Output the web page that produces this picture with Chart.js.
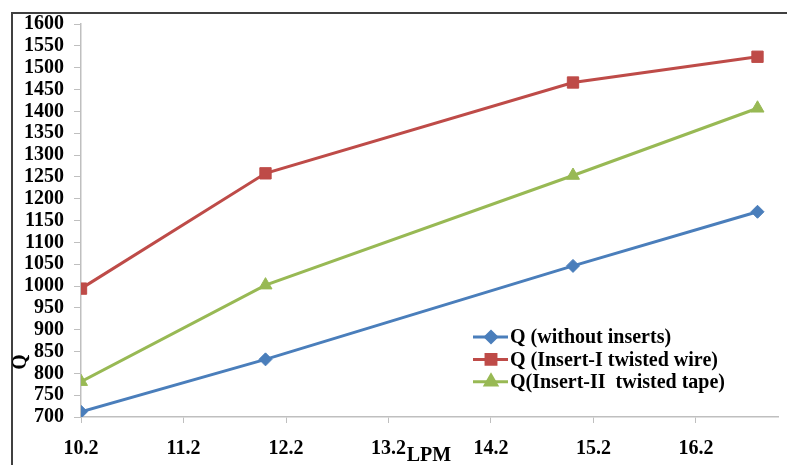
<!DOCTYPE html>
<html>
<head>
<meta charset="utf-8">
<script src="https://cdn.jsdelivr.net/npm/chart.js@4/dist/chart.umd.min.js"></script>
<style>
  html, body { margin: 0; padding: 0; background: #fff; }
  #wrap { width: 787px; height: 465px; }
</style>
</head>
<body>
<div id="wrap"><canvas id="myChart" width="787" height="465"></canvas></div>
<script>
const lpm = [10.2, 12.0, 15.0, 16.8];
const qWithout = [712, 832, 1046, 1170];
const qWire = [994, 1258, 1466, 1525];
const qTape = [781, 1002, 1253, 1407];
const xTicks = [10.2, 11.2, 12.2, 13.2, 14.2, 15.2, 16.2];
const names = ['Q (without inserts)', 'Q (Insert-I twisted wire)', 'Q(Insert-II  twisted tape)'];

const serif = '"Liberation Serif", "Times New Roman", serif';
const axisGray = '#bfbfbf';

function pts(ys) {
    return lpm.map((x, i) => ({ x: x, y: ys[i] }));
}

function series(label, ys, color, style, r) {
    return {
        label: label,
        data: pts(ys),
        borderColor: color,
        backgroundColor: color,
        borderWidth: 3,
        pointStyle: style,
        pointRadius: r,
        pointHoverRadius: r,
        pointBorderWidth: 1,
        pointBorderColor: color,
        pointBackgroundColor: color,
        tension: 0
    };
}

// frame, axis titles and the legend inside the plot
const extras = {
    id: 'extras',
    beforeDraw(chart) {
        const c = chart.ctx;
        c.save();
        c.fillStyle = '#fff';
        c.fillRect(0, 0, chart.width, chart.height);
        c.strokeStyle = '#404040';
        c.lineWidth = 2;
        c.beginPath();
        c.moveTo(12, chart.height);
        c.lineTo(12, 13);
        c.lineTo(chart.width, 13);
        c.stroke();
        c.restore();
    },
    afterDraw(chart) {
        const c = chart.ctx;
        c.save();
        c.fillStyle = '#000';
        c.font = 'bold 20px ' + serif;
        c.textAlign = 'center';
        c.textBaseline = 'alphabetic';
        c.fillText('LPM', 429, 461);

        c.translate(26, 362);
        c.rotate(-Math.PI / 2);
        c.fillText('Q', 0, 0);
        c.restore();

        // legend
        c.save();
        c.font = 'bold 20px ' + serif;
        c.textAlign = 'left';
        c.textBaseline = 'middle';
        chart.data.datasets.forEach((ds, i) => {
            const y = 337 + i * 22.4;
            c.strokeStyle = ds.borderColor;
            c.lineWidth = 3;
            c.beginPath();
            c.moveTo(473, y);
            c.lineTo(508, y);
            c.stroke();
            c.fillStyle = ds.borderColor;
            Chart.helpers.drawPoint(c, {
                pointStyle: ds.pointStyle,
                radius: ds.pointRadius - 1,
                rotation: 0,
                borderWidth: 1
            }, 491, y);
            c.fillStyle = '#000';
            c.fillText(ds.label, 510, y + 1);
        });
        c.restore();
    }
};

const ctx = document.getElementById('myChart');

const myChart = new Chart(ctx, {
    type: 'line',
    data: {
        datasets: [
            series(names[0], qWithout, '#4A7EBB', 'rectRot', 6.5),
            series(names[1], qWire, '#BE4B48', 'rect', 8),
            series(names[2], qTape, '#98B954', 'triangle', 7.5)
        ]
    },
    options: {
        responsive: false,
        animation: false,
        layout: { padding: { top: 24, right: 6, left: 0, bottom: 0 } },
        plugins: {
            legend: { display: false },
            tooltip: { enabled: false }
        },
        scales: {
            x: {
                type: 'linear',
                min: 10.2,
                max: 17,
                afterBuildTicks: s => { s.ticks = xTicks.map(v => ({ value: v })); },
                afterFit: s => { s.height = 48; },
                grid: { drawOnChartArea: false, drawTicks: true, tickLength: 6, color: axisGray },
                border: { display: true, color: axisGray, width: 1.5 },
                ticks: {
                    padding: 14,
                    color: '#000',
                    font: { family: serif, size: 20, weight: 'bold' },
                    maxRotation: 0,
                    callback: v => v.toFixed(1)
                }
            },
            y: {
                min: 700,
                max: 1600,
                afterFit: s => { s.width = 81; },
                grid: { drawOnChartArea: false, drawTicks: true, tickLength: 7, color: axisGray },
                border: { display: true, color: axisGray, width: 1.5 },
                ticks: {
                    stepSize: 50,
                    padding: 10,
                    autoSkip: false,
                    color: '#000',
                    font: { family: serif, size: 20, weight: 'bold' },
                    callback: v => String(v)
                }
            }
        }
    },
    plugins: [extras]
});
</script>
</body>
</html>
